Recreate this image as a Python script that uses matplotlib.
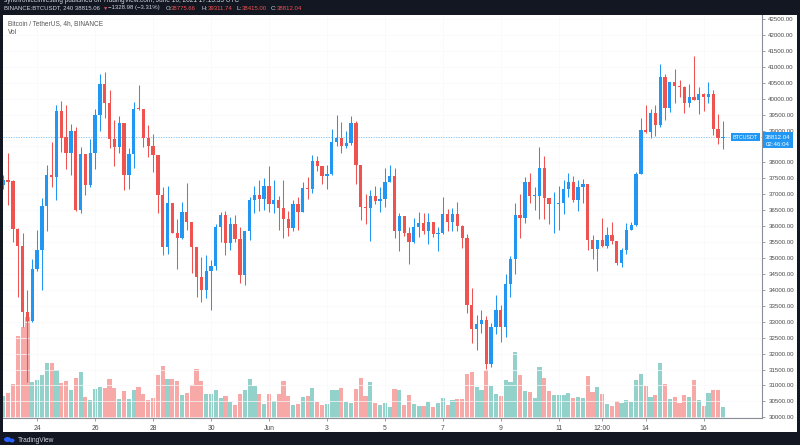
import numpy as np
import pandas as pd
import matplotlib
matplotlib.use("Agg")
import matplotlib.pyplot as plt
from matplotlib.patches import Rectangle, Ellipse

plt.rcParams['font.family'] = ['Liberation Sans', 'DejaVu Sans']

# ---------------- data ----------------
start_time = "2021-05-22 20:00"
n_candles = 150

opens = [37290, 37440, 37410, 35900, 35370, 33290, 33030, 34650, 35240, 36640,
         37590, 37540, 39610, 38800, 38300, 38990, 36520, 38270, 37290, 38310,
         39500, 40450, 39850, 38750, 38490, 39240, 37620, 38260, 39700, 39670,
         38780, 38510, 38230, 36970, 35330, 36740, 35790, 35640, 36450, 36130,
         35350, 34410, 34010, 34600, 34750, 35980, 36340, 35470, 36060, 35610,
         34460, 35840, 36810, 36970, 36850, 37250, 36690, 36810, 36580, 36220,
         35950, 36690, 36450, 37210, 37170, 38040, 37880, 37570, 37630, 38640,
         38780, 38530, 38600, 39250, 37930, 36610, 36580, 36940, 36790, 36840,
         37390, 37570, 35850, 36310, 35770, 35500, 35960, 36100, 35850, 36130,
         35750, 35790, 36370, 36130, 36370, 36010, 35630, 33540, 32780, 32940,
         33070, 31680, 32840, 33360, 32840, 34170, 34960, 36360, 36270, 37390,
         36950, 36950, 37810, 36890, 36680, 36710, 36740, 37150, 37370, 36810,
         37230, 37320, 35560, 35280, 35580, 35380, 35720, 35530, 34850, 35260,
         35890, 36030, 37650, 39030, 38960, 39560, 39170, 40690, 39710, 40510,
         40410, 40380, 39850, 40060, 39960, 40140, 40040, 40140, 39060, 38775.66]
highs = [37600, 38280, 37440, 35950, 35790, 34000, 34980, 35870, 36870, 37910,
         38650, 39800, 39920, 39800, 39200, 39100, 38470, 38270, 38750, 39690,
         40780, 40850, 40270, 39330, 39450, 39240, 38440, 39900, 40430, 39690,
         39170, 38890, 38230, 37230, 37260, 36740, 36220, 36760, 37340, 36130,
         35350, 35030, 35090, 34950, 36080, 36450, 36480, 36290, 36340, 35980,
         35840, 36900, 37270, 37440, 37500, 37880, 37440, 36940, 37440, 36480,
         36810, 36920, 37390, 37550, 38230, 38200, 37880, 37910, 39050, 39480,
         39270, 38990, 39450, 39300, 37930, 37020, 37130, 37250, 37230, 37840,
         37910, 37840, 36420, 36310, 35980, 36240, 36450, 36400, 36400, 36130,
         35980, 36900, 36550, 36580, 36760, 36030, 35740, 34060, 33200, 33360,
         33170, 32960, 33830, 33520, 34510, 35060, 36740, 37000, 37530, 37670,
         37230, 38490, 38200, 36890, 37080, 37270, 37440, 37680, 37580, 37440,
         37490, 37320, 35720, 35580, 36240, 35980, 36130, 35530, 35300, 36100,
         36130, 37700, 39380, 39800, 39690, 39800, 41080, 40770, 40530, 40920,
         40580, 40400, 40460, 41340, 40370, 40190, 40530, 40270, 39520, 39311.74]
lows = [37150, 36660, 35500, 33780, 32840, 31100, 33000, 34600, 34010, 35850,
        37230, 36815, 38330, 37790, 37600, 36480, 36420, 36990, 37240, 37790,
        38990, 39380, 38440, 37890, 38280, 37130, 37180, 37830, 39660, 38490,
        38180, 37700, 36420, 35090, 35140, 35770, 34670, 35610, 35870, 34530,
        33780, 33620, 33730, 33380, 34620, 35510, 35090, 35240, 35510, 34220,
        34150, 35560, 36400, 36480, 36520, 36450, 36400, 35890, 35640, 35680,
        35850, 35890, 36450, 36840, 37050, 37740, 37320, 37150, 37600, 38510,
        38280, 38440, 38540, 37320, 36190, 36060, 35540, 36690, 36450, 36600,
        37390, 35640, 35220, 35680, 34800, 35470, 35660, 35750, 35430, 35660,
        35210, 35750, 35850, 35850, 35850, 35300, 33280, 32330, 32100, 32650,
        31530, 31580, 32630, 32370, 32520, 33780, 34510, 35640, 36100, 36740,
        36500, 36220, 36220, 36080, 35770, 35870, 36370, 36900, 36760, 36480,
        36740, 35240, 34980, 34580, 35330, 35300, 35430, 34770, 34720, 35140,
        35890, 36000, 37650, 38930, 38780, 38820, 39100, 39330, 39590, 39850,
        40060, 39540, 39730, 39960, 39520, 39620, 39850, 38860, 38570, 38415.00]
closes = [37440, 37400, 35900, 35370, 33290, 33030, 34650, 35240, 36640, 37590,
          37540, 39610, 38780, 38300, 38980, 36520, 38270, 37290, 38310, 39500,
          40450, 39850, 38750, 38490, 39240, 37620, 38260, 39680, 39670, 38780,
          38510, 38230, 36970, 35330, 36740, 35790, 35640, 36450, 36130, 35350,
          34410, 34010, 34600, 34750, 35980, 36340, 35470, 36060, 35610, 34460,
          35840, 36810, 36970, 36850, 37250, 36690, 36810, 36580, 36220, 35950,
          36690, 36450, 37210, 37170, 38040, 37880, 37570, 37630, 38640, 38780,
          38530, 38600, 39250, 37930, 36610, 36580, 36940, 36790, 36840, 37390,
          37570, 35850, 36310, 35770, 35500, 35960, 36100, 35850, 36130, 35750,
          35790, 36370, 36130, 36370, 36010, 35630, 33540, 32780, 32940, 33070,
          31680, 32840, 33360, 32840, 34170, 34960, 36360, 36270, 37390, 36950,
          36970, 37810, 36890, 36680, 36710, 36740, 37150, 37370, 36810, 37230,
          37320, 35560, 35280, 35580, 35380, 35720, 35530, 34850, 35260, 35890,
          36030, 37650, 39030, 38960, 39560, 39170, 40690, 39710, 40510, 40410,
          40380, 39850, 40060, 39960, 40140, 40040, 40140, 39060, 38780, 38812.04]
volumes = [67, 76, 103, 247, 275, 305, 110, 115, 130, 165,
           167, 145, 105, 112, 84, 120, 139, 65, 55, 87,
           94, 90, 118, 91, 58, 82, 58, 84, 94, 73,
           55, 61, 130, 156, 117, 117, 112, 70, 76, 100,
           147, 112, 73, 73, 85, 62, 67, 50, 40, 73,
           84, 117, 96, 73, 43, 74, 52, 72, 112, 67,
           40, 42, 64, 66, 90, 48, 39, 43, 84, 84,
           90, 48, 45, 88, 120, 67, 109, 46, 40, 46,
           35, 87, 84, 40, 70, 43, 37, 37, 49, 34,
           46, 60, 41, 54, 57, 57, 132, 139, 93, 85,
           145, 96, 73, 68, 114, 108, 199, 129, 81, 78,
           62, 153, 120, 81, 69, 70, 71, 75, 62, 64,
           61, 126, 79, 93, 73, 43, 37, 51, 46, 55,
           49, 114, 133, 97, 65, 70, 166, 102, 58, 63,
           46, 71, 65, 115, 55, 37, 76, 84, 85, 35]

tick_dates = ["2021-05-24 00:00", "2021-05-26 00:00", "2021-05-28 00:00", "2021-05-30 00:00",
              "2021-06-01 00:00", "2021-06-03 00:00", "2021-06-05 00:00", "2021-06-07 00:00",
              "2021-06-09 00:00", "2021-06-11 00:00", "2021-06-12 12:00", "2021-06-14 00:00",
              "2021-06-16 00:00"]
tick_labels = ["24", "26", "28", "30", "Jun", "3", "5", "7", "9", "11", "12:00", "14", "16"]
price_ticks = list(range(30000, 42501, 500))
last_price = 38812.04

# ---------------- figure ----------------
W, H = 800, 445
DPI = 100
BG = "#131722"
UP, DOWN = "#2196F3", "#EF5350"
VUP, VDOWN = "#92D2CB", "#F7A9A7"
TXT = "#4a4a4a"

fig = plt.figure(figsize=(W / DPI, H / DPI), dpi=DPI, facecolor=BG)

def fx(px):
    return px / W

def fy(py):
    return 1 - py / H

# white chart panel
fig.patches.append(Rectangle((fx(3), fy(432)), fx(797) - fx(3), fy(15) - fy(432),
                             transform=fig.transFigure, facecolor="white",
                             edgecolor="none", zorder=-5))

left, right, top, bottom = 3, 762, 15, 418.3
rect = [fx(left), fy(bottom), fx(right) - fx(left), fy(top) - fy(bottom)]
axv = fig.add_axes(rect)
axv.set_facecolor("white")
axp = axv.twinx()

dates = pd.date_range(start_time, periods=n_candles, freq="4h")
x = np.arange(n_candles)
o = np.array(opens); c = np.array(closes); h = np.array(highs); l = np.array(lows)
up = c >= o

# volume
vcolors = [VUP if u else VDOWN for u in up]
axv.bar(x, volumes, width=0.86, color=vcolors, linewidth=0, zorder=2)
axv.set_ylim(0, 1210)
axv.set_yticks([])

# candles
ccolors = [UP if u else DOWN for u in up]
axp.vlines(x, l, h, colors=ccolors, linewidth=0.75, zorder=3)
body_bottom = np.minimum(o, c)
body_h = np.maximum(np.abs(c - o), 12)
axp.bar(x, body_h, bottom=body_bottom, width=0.68, color=ccolors, linewidth=0, zorder=4)

xmin = (left - 3.3) / 4.83
xmax = (right - 3.3) / 4.83
axv.set_xlim(xmin, xmax)
p_top = 42500 + (19 - top) * 31.38
p_bot = 42500 - (bottom - 19) * 31.38
axp.set_ylim(p_bot, p_top)

# very faint grid
for t in price_ticks:
    axp.axhline(t, color="#f8f9fb", linewidth=0.5, zorder=1)
tick_pos = dates.get_indexer(pd.to_datetime(tick_dates, format="%Y-%m-%d %H:%M"))
for tp in tick_pos:
    axp.axvline(tp, color="#f8f9fb", linewidth=0.5, zorder=1)

# current price line
axp.axhline(last_price, color="#7fbff5", linewidth=0.6, linestyle=(0, (1.5, 1.5)), zorder=2.5)

# axes styling
for s in ["top", "left"]:
    axv.spines[s].set_visible(False)
    axp.spines[s].set_visible(False)
axv.spines["right"].set_visible(False)
axp.spines["right"].set_color("#8a8e97")
axp.spines["right"].set_linewidth(0.8)
axp.spines["bottom"].set_color("#8a8e97")
axp.spines["bottom"].set_linewidth(0.8)
axv.spines["bottom"].set_visible(False)

# the label hidden under the last-price box is left blank
hidden_tick = 38500
axp.set_yticks(price_ticks)
axp.set_yticklabels(["" if t == hidden_tick else f"{t:.2f}" for t in price_ticks])
axp.tick_params(axis="y", which="both", right=True, length=2.5, width=0.6, color="#8a8e97",
                labelsize=4.4, labelcolor=TXT, pad=2)

axv.set_xticks(tick_pos)
axv.set_xticklabels(tick_labels)
axv.tick_params(axis="x", length=2.5, width=0.6, color="#8a8e97", labelsize=4.9,
                labelcolor=TXT, pad=2.2)
axp.tick_params(axis="x", length=0)

# price labels on price scale
y_lp = fy(19 + (42500 - last_price) / 31.38)
fig.patches.append(Rectangle((fx(762.5), y_lp - 11.5 / H), fx(793) - fx(762.5), 16.5 / H,
                             transform=fig.transFigure, facecolor="#2196F3", edgecolor="none", zorder=5))
fig.text(fx(778), y_lp - 0.8 / H, f"{last_price:.2f}", color="white", fontsize=4.4,
         ha="center", va="center", zorder=6)
fig.text(fx(778), y_lp - 8 / H, "02:46:04", color="white", fontsize=4.4,
         ha="center", va="center", zorder=6)
fig.patches.append(Rectangle((fx(731), y_lp - 4.3 / H), fx(760) - fx(731), 7.6 / H,
                             transform=fig.transFigure, facecolor="#2196F3", edgecolor="none", zorder=5))
fig.text(fx(745.5), y_lp - 0.5 / H, "BTCUSDT", color="white", fontsize=3.9, ha="center",
         va="center", zorder=6)

# legend texts inside chart
fig.text(fx(8), fy(23.3), "Bitcoin / TetherUS, 4h, BINANCE", color="#555555", fontsize=4.7,
         ha="left", va="center")
fig.text(fx(8), fy(32), "Vol", color="#555555", fontsize=4.7, ha="left", va="center")

# header
fig.text(fx(3.5), fy(0.3), "synthroniceinvesting published on TradingView.com, June 16, 2021 17:13:33 UTC",
         color="#d1d4dc", fontsize=4.7, ha="left", va="center")

HDR, RED = "#d1d4dc", "#ef5350"
pieces = [(3.5, "BINANCE:BTCUSDT, 240 38815.06", HDR), (102.5, "\u25BC", RED),
          (108.5, "\u22121328.98 (\u22123.31%)", HDR), (165.5, "O:", HDR), (171, "38775.66", RED),
          (202, "H:", HDR), (207.5, "39311.74", RED), (236.5, "L:", HDR),
          (241.5, "38415.00", RED), (270.5, "C:", HDR), (276.5, "38812.04", RED)]
for px, txt, col in pieces:
    fig.text(fx(px), fy(8), txt, color=col, fontsize=4.35 if txt != "\u25BC" else 3.8,
             ha="left", va="center", family=["Liberation Sans", "DejaVu Sans"])

# footer logo + text
fig.patches.append(Ellipse((fx(7.5), fy(439.5)), 7 / W, 5 / H, transform=fig.transFigure,
                           facecolor="#2962FF", edgecolor="none"))
fig.patches.append(Ellipse((fx(12), fy(440.5)), 5 / W, 4 / H, transform=fig.transFigure,
                           facecolor="#2962FF", edgecolor="none"))
fig.text(fx(17.5), fy(440), "TradingView", color="#d1d4dc", fontsize=4.8, ha="left", va="center")

fig.savefig("out.png", dpi=DPI, facecolor=BG)
